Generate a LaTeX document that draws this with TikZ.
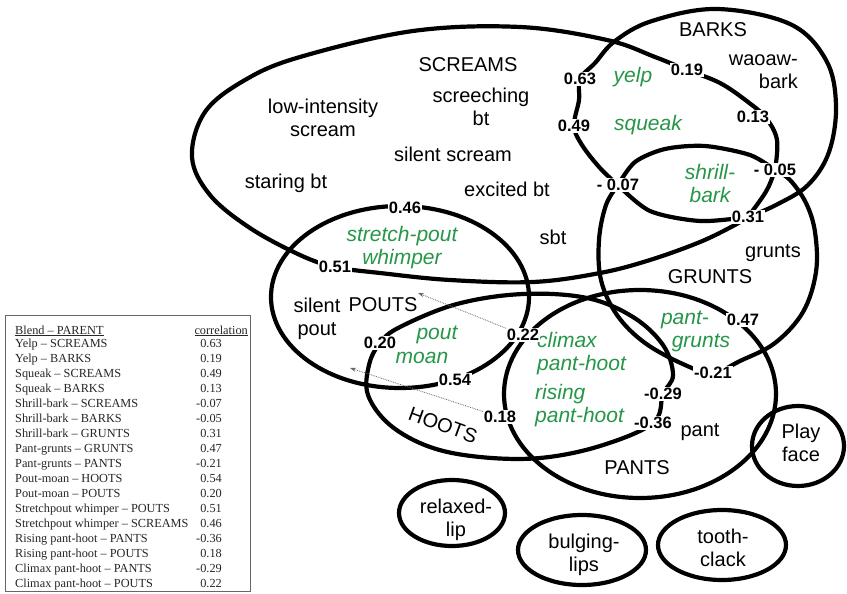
\documentclass[tikz,border=0pt]{standalone}
\usepackage{fontspec}
\setmainfont{Liberation Sans}
\newfontfamily\tabfont{Liberation Serif}
\usetikzlibrary{arrows.meta}
\definecolor{grn}{RGB}{38,150,72}
\begin{document}
\begin{tikzpicture}[x=1pt,y=-1pt,
  bound/.style={line width=4.2pt, line cap=round, line join=round},
  lab/.style={font=\fontsize{20}{23}\selectfont, align=center, inner sep=0pt},
  grnlab/.style={font=\fontsize{21}{23}\selectfont\itshape, text=grn, align=center, inner sep=0pt},
  num/.style={font=\fontsize{16.5}{16.5}\selectfont\bfseries, fill=white, inner sep=0.8pt},
  dotarr/.style={densely dotted, line width=0.8pt, black!60, -{Stealth[length=6pt,width=4pt]}},
  tabtxt/.style={font=\tabfont\fontsize{12.3}{15}\selectfont, inner sep=0pt, text=black!85},
]
\useasboundingbox (0,0) rectangle (847,594);
\fill[white] (0,0) rectangle (847,594);

% label positions
\coordinate (p063) at (580,79);
\coordinate (p049) at (574,126);
\coordinate (p019) at (687,70);
\coordinate (p013) at (753,117);
\coordinate (p005) at (775,170);
\coordinate (p007) at (618,185);
\coordinate (p031) at (748,217);
\coordinate (p046) at (405,208);
\coordinate (p051) at (335,267);
\coordinate (p020) at (380,343);
\coordinate (p054) at (455,380);
\coordinate (p022) at (523,335);
\coordinate (p018) at (500,417);
\coordinate (p029) at (663,394);
\coordinate (p036) at (653,423);
\coordinate (p021) at (713,373);
\coordinate (p047) at (743,320);

% SCREAMS
\draw[bound] plot[smooth, tension=0.6] coordinates {(p031) (733,226) (700,242) (650,260) (600,273) (533,282) (450,280) (380,273) (p051) (300,255) (250,228) (210,195) (192,157) (205,112) (245,80) (300,57) (413,31) (520,27) (607,40) (655,57) (p019) (720,83) (748,102) (766,118) (777,140) (p005)};
\draw[bound] (p005) .. controls (768,190) .. (p031);

% BARKS
\draw[bound] plot[smooth, tension=0.6] coordinates {(p007) (600,168) (582,145) (p049) (579,100) (p063) (595,63) (615,41) (652,21) (717,9) (790,24) (826,60) (836,105) (829,152) (808,185) (776,205) (p031)};
\draw[bound] plot[smooth] coordinates {(p031) (700,221) (650,211) (p007)};

% GRUNTS
\draw[bound] plot[smooth, tension=0.6] coordinates {(p007) (606,205) (599,240) (601,280) (617,315) (645,343) (685,365) (p021) (740,361) (775,343) (803,312) (816,272) (815,232) (806,203) (790,180) (p005)};
\draw[bound] plot[smooth] coordinates {(p005) (750,155) (705,146) (665,149) (635,162) (p007)};

% POUTS
\draw[bound] (400,297) ellipse [x radius=129pt, y radius=91pt];

% HOOTS
\draw[bound] plot[smooth cycle, tension=0.6] coordinates {(p020) (400,327) (457,304) (523,294) (587,298) (633,317) (663,345) (673,375) (p029) (p036) (600,446) (540,458) (480,457) (430,447) (390,425) (368,395) (369,365)};

% PANTS
\draw[bound] (640,394) ellipse [x radius=136pt, y radius=104pt];

% Play face and singles
\draw[bound] (798,446) ellipse [x radius=46pt, y radius=40pt];
\draw[bound] (452,513) ellipse [x radius=53pt, y radius=33pt];
\draw[bound] (582,550) ellipse [x radius=64pt, y radius=35pt];
\draw[bound] (722,545) ellipse [x radius=64pt, y radius=35pt];

% black labels
\node[lab] (screams) at (468,65) {SCREAMS};
\node[lab] (screech) at (481,107) {screeching\\bt};
\node[lab] (lowint) at (323,118) {low-intensity\\scream};
\node[lab] (silscr) at (453,154) {silent scream};
\node[lab] (staring) at (286,183) {staring bt};
\node[lab] (excited) at (507,189) {excited bt};
\node[lab] (sbt) at (553,237) {sbt};
\node[lab] (barks) at (713,30) {BARKS};
\node[lab, align=right, anchor=east] (waoaw) at (798,72) {waoaw-\\bark};
\node[lab] (gruntsl) at (773,253) {grunts};
\node[lab] (grunts) at (710,277) {GRUNTS};
\node[lab] (silpout) at (317,319) {silent\\pout};
\node[lab] (pouts) at (383,305) {POUTS};
\node[lab, rotate=-20] (hoots) at (443,425) {HOOTS};
\node[lab] (pants) at (637,468) {PANTS};
\node[lab] (pant) at (700,432) {pant};
\node[lab] (play) at (801,443) {Play\\face};
\node[lab] (relaxed) at (456,520) {relaxed-\\lip};
\node[lab] (bulging) at (584,555) {bulging-\\lips};
\node[lab] (tooth) at (723,548) {tooth-\\clack};

% green labels
\node[grnlab] (yelp) at (633,77) {yelp};
\node[grnlab] (squeak) at (648,125) {squeak};
\node[grnlab] (shrill) at (710,183) {shrill-\\bark};
\node[grnlab] (stretch) at (402,248) {stretch-pout\\whimper};
\node[grnlab] (poutg) at (437,335) {pout};
\node[grnlab] (moang) at (422,358) {moan};
\node[grnlab, align=left, anchor=west] (climax) at (537,354) {climax\\pant-hoot};
\node[grnlab, align=left, anchor=west] (rising) at (535,406) {rising\\pant-hoot};
\node[grnlab] (pantg) at (685,320) {pant-};
\node[grnlab] (gruntsg) at (701,343) {grunts};

% correlation labels
\node[num] (n063) at (p063) {0.63};
\node[num] (n049) at (p049) {0.49};
\node[num] (n019) at (p019) {0.19};
\node[num] (n013) at (p013) {0.13};
\node[num] (n005) at (p005) {- 0.05};
\node[num] (n007) at (p007) {- 0.07};
\node[num] (n031) at (p031) {0.31};
\node[num] (n046) at (p046) {0.46};
\node[num] (n051) at (p051) {0.51};
\node[num] (n020) at (p020) {0.20};
\node[num] (n054) at (p054) {0.54};
\node[num] (n022) at (p022) {0.22};
\node[num] (n018) at (p018) {0.18};
\node[num] (n029) at (p029) {-0.29};
\node[num] (n036) at (p036) {-0.36};
\node[num] (n021) at (p021) {-0.21};
\node[num] (n047) at (p047) {0.47};

% dotted arrows
\coordinate (a1) at (418,293);
\coordinate (a2) at (350,368);
\draw[dotarr] (n022) -- (a1);
\draw[dotarr] (n018) -- (a2);

% table
\draw[black!60, line width=0.8pt] (5,315) rectangle (250,591);
\node[tabtxt, anchor=base west] (hdl) at (15,334) {\underline{Blend – PARENT}};
\node[tabtxt, anchor=base east] (hdr) at (248,334) {\underline{correlation}};
\foreach \t/\v [count=\i] in {Yelp – SCREAMS/0.63, Yelp – BARKS/0.19, Squeak – SCREAMS/0.49, Squeak – BARKS/0.13, Shrill-bark – SCREAMS/-0.07, Shrill-bark – BARKS/-0.05, Shrill-bark – GRUNTS/0.31, Pant-grunts – GRUNTS/0.47, Pant-grunts – PANTS/-0.21, Pout-moan – HOOTS/0.54, Pout-moan – POUTS/0.20, Stretchpout whimper – POUTS/0.51, Stretchpout whimper – SCREAMS/0.46, Rising pant-hoot – PANTS/-0.36, Rising pant-hoot – POUTS/0.18, Climax pant-hoot – PANTS/-0.29, Climax pant-hoot – POUTS/0.22}{
  \node[tabtxt, anchor=base west] (t\i) at (15,332+15*\i) {\t};
  \node[tabtxt, anchor=base east] (v\i) at (222,332+15*\i) {\v};
}
\end{tikzpicture}
\end{document}
